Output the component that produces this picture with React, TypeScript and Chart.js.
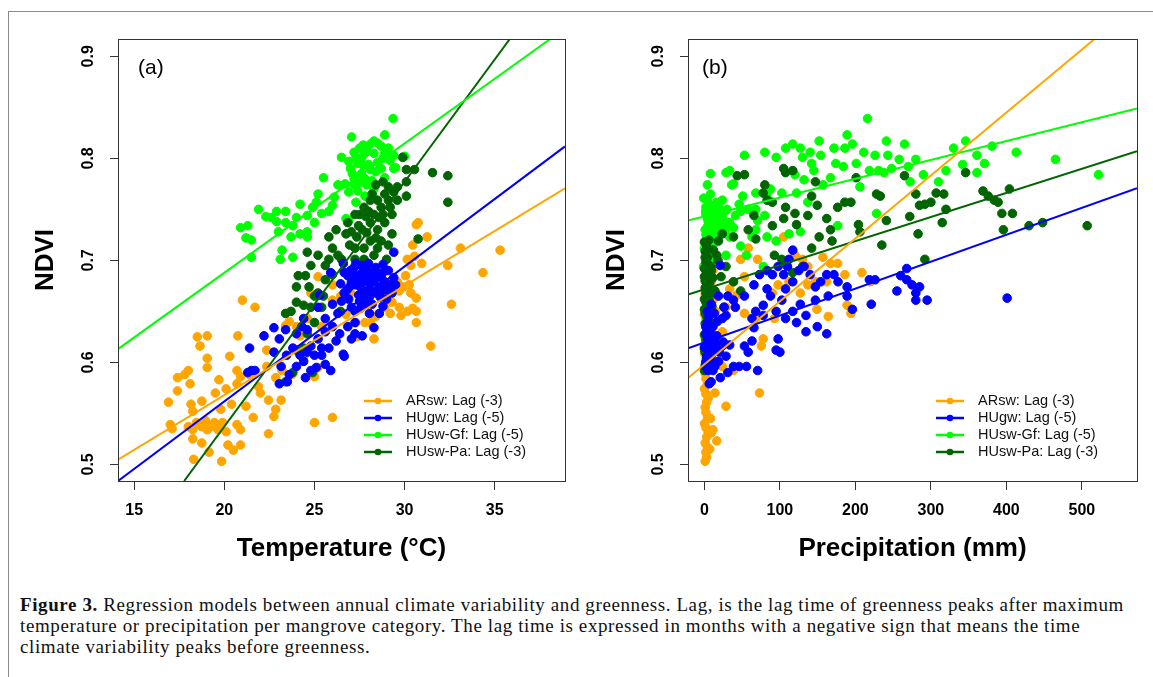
import React, { useEffect, useRef } from "react";
import { Chart, registerables } from "chart.js";
Chart.register(...registerables);

// ---------- series / labels ----------
const seriesLabels = ["ARsw: Lag (-3)", "HUgw: Lag (-5)", "HUsw-Gf: Lag (-5)", "HUsw-Pa: Lag (-3)"];
const seriesColors = ["#FFA500", "#0000FF", "#00FF00", "#006400"];

const tempTicks = [15, 20, 25, 30, 35];
const precTicks = [0, 100, 200, 300, 400, 500];
const ndviTicks = [0.5, 0.6, 0.7, 0.8, 0.9];

// ---------- panel (a): temperature vs NDVI ----------
const tempARsw = [
  [16.9,0.561],[17.0,0.539],[17.1,0.535],[17.4,0.585],[17.4,0.572],[18.0,0.592],[18.1,0.579],[17.8,0.588],[18.5,0.625],[18.65,0.616],
  [19.05,0.626],[19.05,0.604],[19.05,0.595],[19.7,0.583],[19.5,0.57],[18.75,0.562],[18.15,0.559],[18.25,0.552],[18.0,0.537],[18.25,0.534],
  [18.45,0.541],[18.75,0.537],[18.95,0.543],[19.05,0.534],[19.25,0.537],[19.45,0.541],[19.65,0.534],[19.9,0.541],[19.8,0.554],[18.25,0.525],
  [18.75,0.521],[19.15,0.512],[18.3,0.505],[19.85,0.503],[20.2,0.519],[20.5,0.514],[20.9,0.519],[20.9,0.534],[20.7,0.539],[20.1,0.532],
  [20.4,0.559],[20.1,0.574],[20.7,0.579],[20.9,0.586],[20.3,0.606],[20.75,0.626],[21.0,0.661],[21.7,0.654],[21.2,0.557],[21.6,0.546],
  [21.9,0.576],[22.0,0.57],[22.45,0.563],[22.45,0.53],[22.75,0.547],[22.85,0.554],[22.35,0.612],[22.35,0.596],[22.85,0.585],[23.4,0.636],
  [23.2,0.592],[23.6,0.64],[25.0,0.541],[26.0,0.546],[25.0,0.586],[25.2,0.595],[24.2,0.626],[24.0,0.635],[24.6,0.643],[25.2,0.684],
  [26.0,0.676],[26.45,0.665],[26.75,0.647],[27.35,0.625],[27.8,0.639],[28.3,0.623],[28.4,0.645],[28.9,0.654],[29.2,0.648],[29.3,0.659],
  [29.6,0.679],[29.7,0.67],[29.95,0.674],[30.15,0.701],[30.35,0.695],[30.55,0.704],[30.65,0.735],[30.75,0.737],[30.45,0.715],[30.95,0.697],
  [31.25,0.723],[30.65,0.663],[30.65,0.65],[30.45,0.653],[30.15,0.65],[29.8,0.646],[29.7,0.654],[30.65,0.639],[30.35,0.668],[30.05,0.685],
  [30.25,0.676],[31.45,0.616],[32.4,0.695],[32.6,0.657],[33.1,0.712],[34.35,0.688],[35.3,0.71],[29.3,0.67],[28.9,0.668],[28.1,0.639],
  [27.3,0.639],[27.0,0.668],[26.0,0.661],[24.8,0.668],[25.4,0.635],[24.4,0.606],[23.75,0.588],[23.15,0.563],[21.4,0.588],[20.7,0.592]
];
const tempHUgw = [
  [21.4,0.614],[21.5,0.592],[21.3,0.59],[21.7,0.592],[22.2,0.626],[22.75,0.634],[22.75,0.61],[23.05,0.623],[23.4,0.632],[23.05,0.579],
  [23.15,0.596],[23.45,0.607],[23.8,0.614],[24.0,0.628],[24.3,0.635],[24.4,0.643],[24.6,0.632],[24.2,0.607],[24.6,0.61],[24.8,0.616],
  [25.0,0.607],[25.4,0.614],[25.4,0.607],[25.2,0.623],[25.6,0.63],[26.0,0.635],[25.2,0.654],[25.6,0.643],[25.9,0.592],[26.6,0.608],
  [26.2,0.621],[26.4,0.628],[26.85,0.635],[27.25,0.639],[27.25,0.65],[27.55,0.653],[26.65,0.668],[26.45,0.677],[26.65,0.688],[27.25,0.694],
  [27.9,0.692],[28.5,0.687],[28.9,0.679],[29.1,0.672],[29.4,0.683],[29.4,0.708],[28.8,0.696],[28.05,0.672],[27.55,0.674],[27.05,0.679],
  [26.85,0.685],[26.95,0.674],[27.9,0.679],[28.3,0.679],[28.6,0.674],[27.45,0.666],[28.05,0.664],[28.65,0.664],[27.9,0.657],[28.3,0.634],
  [28.6,0.648],[28.05,0.648],[27.05,0.654],[25.9,0.688],[25.3,0.666],[26.0,0.657],[25.8,0.614],[25.6,0.598],[24.8,0.592],[24.5,0.585],
  [24.0,0.596],[23.6,0.588],[24.4,0.601],[25.1,0.595],[23.5,0.581],[26.65,0.606],[27.25,0.628],[27.65,0.626],[27.05,0.623],[28.2,0.687],
  [27.15,0.692],[27.6,0.687],[29.1,0.69],[27.4,0.682],[28.0,0.684],[28.7,0.683],[27.7,0.67],[28.4,0.668],[29.0,0.662],[26.9,0.662],
  [27.0,0.69],[27.3,0.697],[27.6,0.695],[28.0,0.697],[28.4,0.693],[28.8,0.688],[29.2,0.676],[29.3,0.668],[28.9,0.671],[28.5,0.671],
  [28.1,0.677],[27.7,0.68],[27.3,0.676],[26.8,0.671],[27.2,0.686],[27.9,0.686],[28.3,0.685],[27.5,0.66],[28.2,0.657],[28.8,0.655],
  [26.6,0.697],[27.8,0.665],[29.5,0.676],[26.5,0.66],[26.3,0.648]
];
const tempHUswGf = [
  [29.36,0.839],[27.06,0.821],[28.9,0.823],[28.1,0.814],[29.9,0.801],[26.5,0.801],[25.5,0.781],[29.4,0.79],[27.0,0.79],[26.3,0.774],
  [25.2,0.765],[25.1,0.757],[24.2,0.755],[24.6,0.744],[23.4,0.748],[22.9,0.748],[21.9,0.75],[22.3,0.743],[20.9,0.732],[21.3,0.734],
  [21.2,0.722],[21.5,0.72],[21.5,0.703],[22.9,0.738],[23.0,0.728],[23.4,0.737],[23.8,0.734],[23.7,0.723],[23.2,0.71],[23.8,0.703],
  [23.1,0.701],[24.2,0.726],[24.6,0.728],[25.0,0.737],[25.4,0.746],[25.8,0.748],[26.0,0.754],[26.75,0.741],[26.9,0.739],[24.6,0.723],
  [26.9,0.767],[27.3,0.757],[27.8,0.763],[28.3,0.77],[27.5,0.776],[27.6,0.785],[28.1,0.789],[28.5,0.796],[28.9,0.805],[29.4,0.803],
  [29.1,0.81],[28.3,0.817],[27.7,0.813],[27.2,0.806],[28.7,0.812],[28.3,0.805],[27.8,0.805],[27.3,0.801],[28.0,0.794],[27.7,0.793],
  [27.1,0.785],[27.2,0.774],[27.9,0.774],[28.9,0.781],[29.5,0.791],[30.0,0.802],[22.6,0.742],[24.0,0.742],[24.9,0.752],[26.1,0.762],
  [27.5,0.81],[27.9,0.808],[28.5,0.815],[28.8,0.8],[28.4,0.787],[27.4,0.795],[26.9,0.797],[27.6,0.8],[28.7,0.79],[29.2,0.798],
  [27.2,0.78],[27.8,0.78],[28.2,0.778],[26.7,0.775],[27.4,0.768]
];
const tempHUswPa = [
  [23.4,0.581],[23.8,0.59],[24.9,0.59],[23.4,0.648],[23.7,0.65],[24.0,0.674],[24.1,0.685],[24.5,0.685],[24.7,0.674],[24.0,0.659],
  [24.4,0.656],[24.8,0.654],[25.0,0.665],[25.2,0.668],[24.8,0.695],[24.6,0.708],[25.2,0.705],[25.6,0.695],[25.8,0.701],[25.8,0.723],
  [26.2,0.73],[26.0,0.712],[26.3,0.705],[26.5,0.701],[26.75,0.726],[26.85,0.737],[27.25,0.745],[27.05,0.728],[27.35,0.723],[27.25,0.712],
  [27.75,0.701],[27.75,0.712],[28.1,0.719],[27.65,0.73],[28.1,0.737],[28.5,0.73],[28.3,0.745],[28.7,0.752],[28.5,0.759],[28.1,0.759],
  [27.75,0.752],[28.4,0.774],[28.8,0.777],[29.1,0.772],[29.1,0.759],[29.4,0.767],[29.3,0.745],[28.9,0.737],[29.3,0.726],[28.7,0.719],
  [29.1,0.715],[27.85,0.743],[27.45,0.734],[29.6,0.759],[29.9,0.801],[30.1,0.789],[30.1,0.777],[30.1,0.763],[30.55,0.789],[30.75,0.721],
  [31.55,0.786],[32.4,0.783],[32.4,0.757],[25.5,0.665],[25.4,0.654],[26.0,0.686],[25.6,0.681],[26.45,0.65],[28.5,0.712],[28.3,0.705],
  [27.25,0.701],[26.95,0.715],[29.0,0.701],[25.0,0.639],[24.6,0.628],[24.4,0.614],[24.0,0.612],
  [28.0,0.748],[28.6,0.742],[28.2,0.765],[28.9,0.765],[29.2,0.752],[27.9,0.727],[28.4,0.722],[28.8,0.745],[29.6,0.772],[27.5,0.745]
];
// regression lines: [x0, y0, x1, y1] as read at the plot edges
const tempFits = [
  [14.1, 0.5047, 38.9, 0.7707],
  [14.1, 0.4837, 38.9, 0.8117],
  [14.1, 0.613, 38.08, 0.917],
  [17.77, 0.4837, 35.84, 0.917]
];

// ---------- panel (b): precipitation vs NDVI ----------
const precARsw = [
  [1,0.503],[3,0.507],[2,0.512],[4,0.517],[1,0.521],[3,0.527],[5,0.531],[2,0.536],[0,0.54],[4,0.546],[2,0.551],[1,0.556],[3,0.561],
  [5,0.565],[2,0.569],[0,0.574],[4,0.579],[2,0.584],[1,0.589],[3,0.593],[5,0.598],[2,0.603],[0,0.609],[4,0.614],[2,0.619],[1,0.624],
  [3,0.631],[6,0.636],[2,0.643],[0,0.647],[4,0.655],[3,0.661],[1,0.667],[5,0.672],[2,0.679],[8,0.545],[9,0.531],[7,0.515],
  [13.8,0.57],[11.3,0.534],[16.3,0.523],[28.6,0.557],[73,0.57],[77.9,0.623],[75.4,0.616],[68,0.643],[53,0.648],[92.7,0.643],[105,0.723],
  [120,0.705],[112,0.679],[97.6,0.676],[90,0.668],[127,0.668],[137,0.676],[149,0.652],[157,0.703],[167,0.697],[162,0.679],[164,0.645],
  [176.5,0.697],[186,0.686],[189,0.656],[194,0.648],[208.6,0.688],[220,0.679],[33.5,0.672],[38.5,0.679],[48,0.701],[58,0.712],[70.5,0.701],
  [53,0.684],[43,0.666],[28.6,0.654],[16.3,0.643],[23.7,0.63],[18.7,0.621],[23.7,0.596],[38.5,0.592],[147,0.679],[137,0.694],[130,0.701],
  [16.3,0.701],[11.3,0.69],[8.9,0.679],[11.3,0.661],[14.8,0.65]
];
const precHUgw = [
  [3.9,0.65],[6.4,0.579],[21,0.585],[13.8,0.596],[8.9,0.606],[3.9,0.617],[1.5,0.628],[3.9,0.639],[11.3,0.635],[16.3,0.626],
  [23.7,0.643],[18.7,0.665],[21,0.695],[31,0.665],[28.6,0.646],[41,0.654],[33.5,0.617],[28.6,0.606],[38.5,0.596],[31,0.59],
  [46,0.596],[55.7,0.596],[70.5,0.592],[53,0.616],[58,0.61],[63,0.621],[65.6,0.634],[63,0.643],[68,0.65],[77.9,0.656],
  [77.9,0.646],[65.6,0.676],[73,0.686],[83,0.69],[90,0.686],[97.6,0.694],[105,0.686],[112,0.701],[117,0.71],[110,0.694],
  [117,0.679],[125,0.69],[132,0.694],[140,0.686],[147,0.674],[154,0.679],[162,0.686],[171.6,0.686],[177,0.679],[189,0.674],
  [189,0.665],[196,0.652],[218.5,0.681],[226,0.681],[221,0.657],[255,0.67],[260,0.685],[268,0.692],[268,0.681],[275,0.676],
  [280,0.668],[285,0.674],[280,0.661],[295,0.661],[401,0.663],[95,0.65],[97.6,0.623],[95,0.612],[100,0.61],[107.5,0.643],
  [117,0.65],[122,0.639],[127,0.657],[134.5,0.63],[134.5,0.646],[147,0.661],[149.5,0.635],[162,0.628],[164,0.665],[87.5,0.665],
  [83,0.672],[102.5,0.661],[107.5,0.672],[53,0.665],[38.5,0.661],[26,0.654],[8.9,0.628],[6.4,0.61],[16.3,0.612],[23.7,0.616],
  [18.7,0.601],[4.9,0.592],[1.5,0.596],[3,0.606],[4.9,0.623],[11.3,0.592],[8.9,0.581],
  [2,0.6],[5,0.612],[7,0.62],[10,0.6],[12,0.615],[14,0.62],[2,0.635],[6,0.645],[9,0.657],[13,0.648],[17,0.64],[20,0.61],[25,0.62],[0,0.615]
];
const precHUswGf = [
  [3.9,0.774],[7.9,0.785],[1.5,0.748],[3.9,0.741],[8.9,0.752],[13.8,0.746],[18.7,0.752],[23.7,0.759],[28.6,0.786],[33.5,0.788],
  [38.5,0.775],[36,0.774],[53,0.803],[50.8,0.763],[46,0.755],[48,0.748],[41,0.744],[33.5,0.737],[28.6,0.73],[18.7,0.726],
  [11.3,0.734],[6.4,0.726],[3.9,0.715],[3,0.708],[8.9,0.701],[11.3,0.715],[16.3,0.723],[23.7,0.737],[28.6,0.705],[33.5,0.723],
  [48,0.714],[55.7,0.705],[63,0.723],[68,0.73],[68,0.766],[68,0.75],[80,0.806],[80,0.744],[83,0.723],[83,0.763],
  [87.5,0.77],[95,0.801],[102.5,0.766],[107.5,0.81],[117,0.814],[120,0.784],[127,0.81],[130,0.801],[132,0.779],[140,0.806],
  [142,0.795],[145,0.788],[152,0.817],[154,0.803],[157,0.774],[167,0.781],[171.6,0.81],[174,0.795],[176.5,0.734],[184,0.792],
  [189,0.823],[186,0.81],[196,0.814],[201,0.795],[206,0.772],[211,0.806],[216,0.839],[218.5,0.788],[226,0.803],[228,0.746],
  [230.8,0.788],[238,0.786],[241,0.817],[243,0.803],[248,0.79],[258,0.799],[265,0.814],[270,0.792],[272.5,0.777],[280,0.799],
  [290,0.784],[310,0.777],[320,0.788],[330,0.81],[342,0.794],[346,0.817],[361,0.803],[361,0.786],[371,0.795],[381,0.812],
  [413,0.806],[465,0.799],[522,0.784],[122,0.766],[137,0.757],[112,0.726],[95,0.719],[127,0.728],[78,0.694],[-1,0.694],
  [1.5,0.701],[16.3,0.757],[38.5,0.732],[58,0.75],[70.5,0.739],[11.3,0.743],[16.3,0.737],[6.4,0.755],[-1,0.761],[2,0.745],
  [5,0.738],[10,0.742],[14,0.75],[20,0.745],[25,0.74],[30,0.75],[18,0.728],[3,0.72],[7,0.712],[1,0.73],
  [2,0.752],[4,0.733],[6,0.745],[9,0.738],[12,0.748],[15,0.742],[19,0.738],[22,0.733],[27,0.748],[4,0.76],[8,0.765],[10,0.728],
  [2,0.725],[13,0.72],[5,0.704],[0,0.712]
];
const precHUswPa = [
  [0,0.592],[2,0.6],[1,0.61],[3,0.618],[0,0.627],[2,0.635],[4,0.641],[1,0.648],[3,0.655],[0,0.662],[2,0.668],[5,0.674],[1,0.68],
  [3,0.686],[0,0.692],[2,0.698],[4,0.703],[1,0.709],[3,0.714],[6,0.72],[9,0.69],[12,0.71],[14,0.67],[10,0.655],[7,0.64],[22,0.684],
  [18,0.7],[43.4,0.783],[105,0.79],[107.5,0.786],[117,0.788],[80,0.774],[77.9,0.766],[90,0.757],[107.5,0.752],[120,0.746],[122,0.735],
  [137,0.744],[147,0.777],[149.5,0.754],[152,0.723],[162,0.741],[167,0.73],[169,0.719],[176.5,0.752],[186,0.757],[194,0.757],[201,0.781],
  [204,0.735],[206,0.728],[228,0.765],[233,0.763],[235,0.715],[241,0.739],[265,0.783],[272,0.743],[280,0.765],[285,0.754],[292,0.755],
  [300,0.757],[307,0.766],[317,0.765],[320,0.75],[315,0.737],[283,0.726],[292,0.701],[346,0.786],[369,0.768],[376,0.763],[384,0.759],
  [389,0.757],[394,0.746],[404,0.77],[408,0.746],[396,0.73],[430,0.734],[448,0.737],[507,0.734],[92.7,0.705],[102.5,0.701],[68,0.721],
  [58,0.73],[38.5,0.723],[28.6,0.694],[18.7,0.719],[23.7,0.726],[53,0.784],[65.6,0.744],[83,0.759],[38.5,0.679],[26,0.654],[13.8,0.668],
  [8.9,0.694],[11.3,0.683],[16.3,0.705],[142,0.712],[142,0.763],[90,0.734],[105,0.741],[117,0.688],[130,0.694],[48,0.67],
  [1,0.597],[3,0.604],[0,0.613],[2,0.622],[4,0.63],[1,0.638],[3,0.645],[0,0.652],[2,0.659],[4,0.665],[1,0.673],[3,0.678],
  [0,0.684],[2,0.69],[4,0.697],[1,0.703],[0,0.718],[6,0.662],[7,0.678]
];
const precFits = [
  [-21.7, 0.5847, 516.8, 0.917],
  [-21.7, 0.6137, 573, 0.7707],
  [-21.7, 0.739, 573, 0.8488],
  [-21.7, 0.6664, 573, 0.807]
];

const SANS = "'Liberation Sans', Arial, Helvetica, sans-serif";

type Panel = {
  tag: string;
  tagDx: number;
  xTitle: string;
  xMin: number;
  xMax: number;
  xTicks: number[];
  series: number[][][];
  fits: number[][];
  padLeft: number;
  padRight: number;
  yTitlePad: number;
};

function makeConfig(p: Panel): any {
  const datasets: any[] = [];
  p.fits.forEach((f, i) => {
    datasets.push({
      type: "line",
      label: seriesLabels[i] + " fit",
      data: [{ x: f[0], y: f[1] }, { x: f[2], y: f[3] }],
      borderColor: seriesColors[i],
      borderWidth: 2,
      pointRadius: 0,
      fill: false,
      tension: 0,
      order: 0,
    });
  });
  const pointOrder = [4, 1, 3, 2];
  p.series.forEach((s, i) => {
    datasets.push({
      type: "scatter",
      label: seriesLabels[i],
      data: s.map(([x, y]) => ({ x, y })),
      backgroundColor: seriesColors[i],
      borderColor: seriesColors[i],
      borderWidth: 1,
      pointRadius: 4.3,
      order: pointOrder[i],
    });
  });

  const overlay = {
    id: "overlay" + p.tag,
    afterDraw(chart: any) {
      const { ctx, chartArea } = chart;
      const { left, right, top, bottom } = chartArea;
      ctx.save();
      // frame
      ctx.strokeStyle = "#333";
      ctx.lineWidth = 1;
      ctx.strokeRect(Math.round(left) + 0.5, Math.round(top) + 0.5, Math.round(right - left), Math.round(bottom - top));
      // rotated y tick labels
      const ys = chart.scales.y;
      ctx.fillStyle = "#000";
      ctx.font = "bold 16px " + SANS;
      ctx.textAlign = "center";
      ctx.textBaseline = "middle";
      ys.ticks.forEach((t: any) => {
        const py = ys.getPixelForValue(t.value);
        ctx.save();
        ctx.translate(left - 29, py);
        ctx.rotate(-Math.PI / 2);
        ctx.fillText(t.value.toFixed(1), 0, 0);
        ctx.restore();
      });
      // panel tag
      ctx.font = "21px " + SANS;
      ctx.textAlign = "left";
      ctx.fillText(p.tag, left + p.tagDx, top + 29.5);
      // legend
      ctx.font = "14.5px " + SANS;
      const lx = right - 201;
      seriesLabels.forEach((lab, i) => {
        const ly = bottom - 80 + 17 * i;
        ctx.strokeStyle = seriesColors[i];
        ctx.lineWidth = 2.5;
        ctx.beginPath();
        ctx.moveTo(lx, ly);
        ctx.lineTo(lx + 28, ly);
        ctx.stroke();
        ctx.fillStyle = seriesColors[i];
        ctx.beginPath();
        ctx.arc(lx + 14, ly, 3.3, 0, Math.PI * 2);
        ctx.fill();
        ctx.fillStyle = "#111";
        ctx.textAlign = "left";
        ctx.fillText(lab, lx + 42, ly);
      });
      ctx.restore();
    },
  };

  return {
    type: "scatter",
    data: { datasets },
    plugins: [overlay],
    options: {
      animation: false,
      responsive: false,
      events: [],
      layout: { padding: { left: p.padLeft, right: p.padRight, top: 39, bottom: 9 } },
      plugins: { legend: { display: false }, tooltip: { enabled: false }, title: { display: false } },
      scales: {
        x: {
          type: "linear",
          min: p.xMin,
          max: p.xMax,
          afterBuildTicks: (s: any) => { s.ticks = p.xTicks.map((v) => ({ value: v })); },
          afterFit: (s: any) => { s.height = 90; },
          grid: { drawOnChartArea: false, drawTicks: true, tickLength: 9, tickColor: "#333", tickWidth: 1 },
          border: { display: false },
          ticks: {
            autoSkip: false, maxRotation: 0, minRotation: 0, padding: 11, color: "#000",
            font: { family: SANS, size: 16, weight: "bold" },
            callback: (v: any) => String(v),
          },
          title: {
            display: true, text: p.xTitle, color: "#000",
            font: { family: SANS, size: 26, weight: "bold" },
            padding: { top: 0, bottom: 7 },
          },
        },
        y: {
          type: "linear",
          min: 0.4837,
          max: 0.917,
          afterBuildTicks: (s: any) => { s.ticks = ndviTicks.map((v) => ({ value: v })); },
          afterFit: (s: any) => { s.width = 100; },
          grid: { drawOnChartArea: false, drawTicks: true, tickLength: 8, tickColor: "#333", tickWidth: 1 },
          border: { display: false },
          ticks: { display: false },
          title: {
            display: true, text: "NDVI", color: "#000",
            font: { family: SANS, size: 26, weight: "bold" },
            padding: { top: p.yTitlePad, bottom: 0 },
          },
        },
      },
    },
  };
}

function ChartCanvas({ panel, width, height, left }: { panel: Panel; width: number; height: number; left: number }) {
  const ref = useRef<HTMLCanvasElement | null>(null);
  useEffect(() => {
    if (!ref.current) return;
    const chart = new Chart(ref.current, makeConfig(panel));
    return () => chart.destroy();
  }, []);
  return (
    <canvas
      ref={ref}
      width={width}
      height={height}
      style={{ position: "absolute", left, top: 0, width, height }}
    />
  );
}

const panelA: Panel = {
  tag: "(a)", tagDx: 20, xTitle: "Temperature (°C)", xMin: 14.1, xMax: 38.9, xTicks: tempTicks,
  series: [tempARsw, tempHUgw, tempHUswGf, tempHUswPa], fits: tempFits,
  padLeft: 18, padRight: 15, yTitlePad: 12.6,
};
const panelB: Panel = {
  tag: "(b)", tagDx: 14, xTitle: "Precipitation (mm)", xMin: -21.75, xMax: 573, xTicks: precTicks,
  series: [precARsw, precHUgw, precHUswGf, precHUswPa], fits: precFits,
  padLeft: 8, padRight: 16, yTitlePad: 12.9,
};

const captionStyle: React.CSSProperties = {
  position: "absolute",
  left: 20,
  whiteSpace: "nowrap",
  fontFamily: "'Liberation Serif', 'Times New Roman', serif",
  fontSize: 19,
  letterSpacing: 0.6,
  lineHeight: "21px",
  color: "#111",
};

export default function App() {
  return (
    <div style={{ position: "absolute", left: 0, top: 0, width: 1153, height: 677, overflow: "hidden", background: "#fff" }}>
      <div style={{ position: "absolute", left: 8, top: 11, width: 1200, height: 700, borderLeft: "1px solid #8a8a8a", borderTop: "1px solid #8a8a8a" }} />
      <ChartCanvas panel={panelA} width={580} height={580} left={0} />
      <ChartCanvas panel={panelB} width={573} height={580} left={580} />
      <div style={{ ...captionStyle, top: 594 }}>
        <b>Figure 3.</b> Regression models between annual climate variability and greenness. Lag, is the lag time of greenness peaks after maximum
      </div>
      <div style={{ ...captionStyle, top: 615 }}>
        temperature or precipitation per mangrove category. The lag time is expressed in months with a negative sign that means the time
      </div>
      <div style={{ ...captionStyle, top: 636 }}>
        climate variability peaks before greenness.
      </div>
    </div>
  );
}
